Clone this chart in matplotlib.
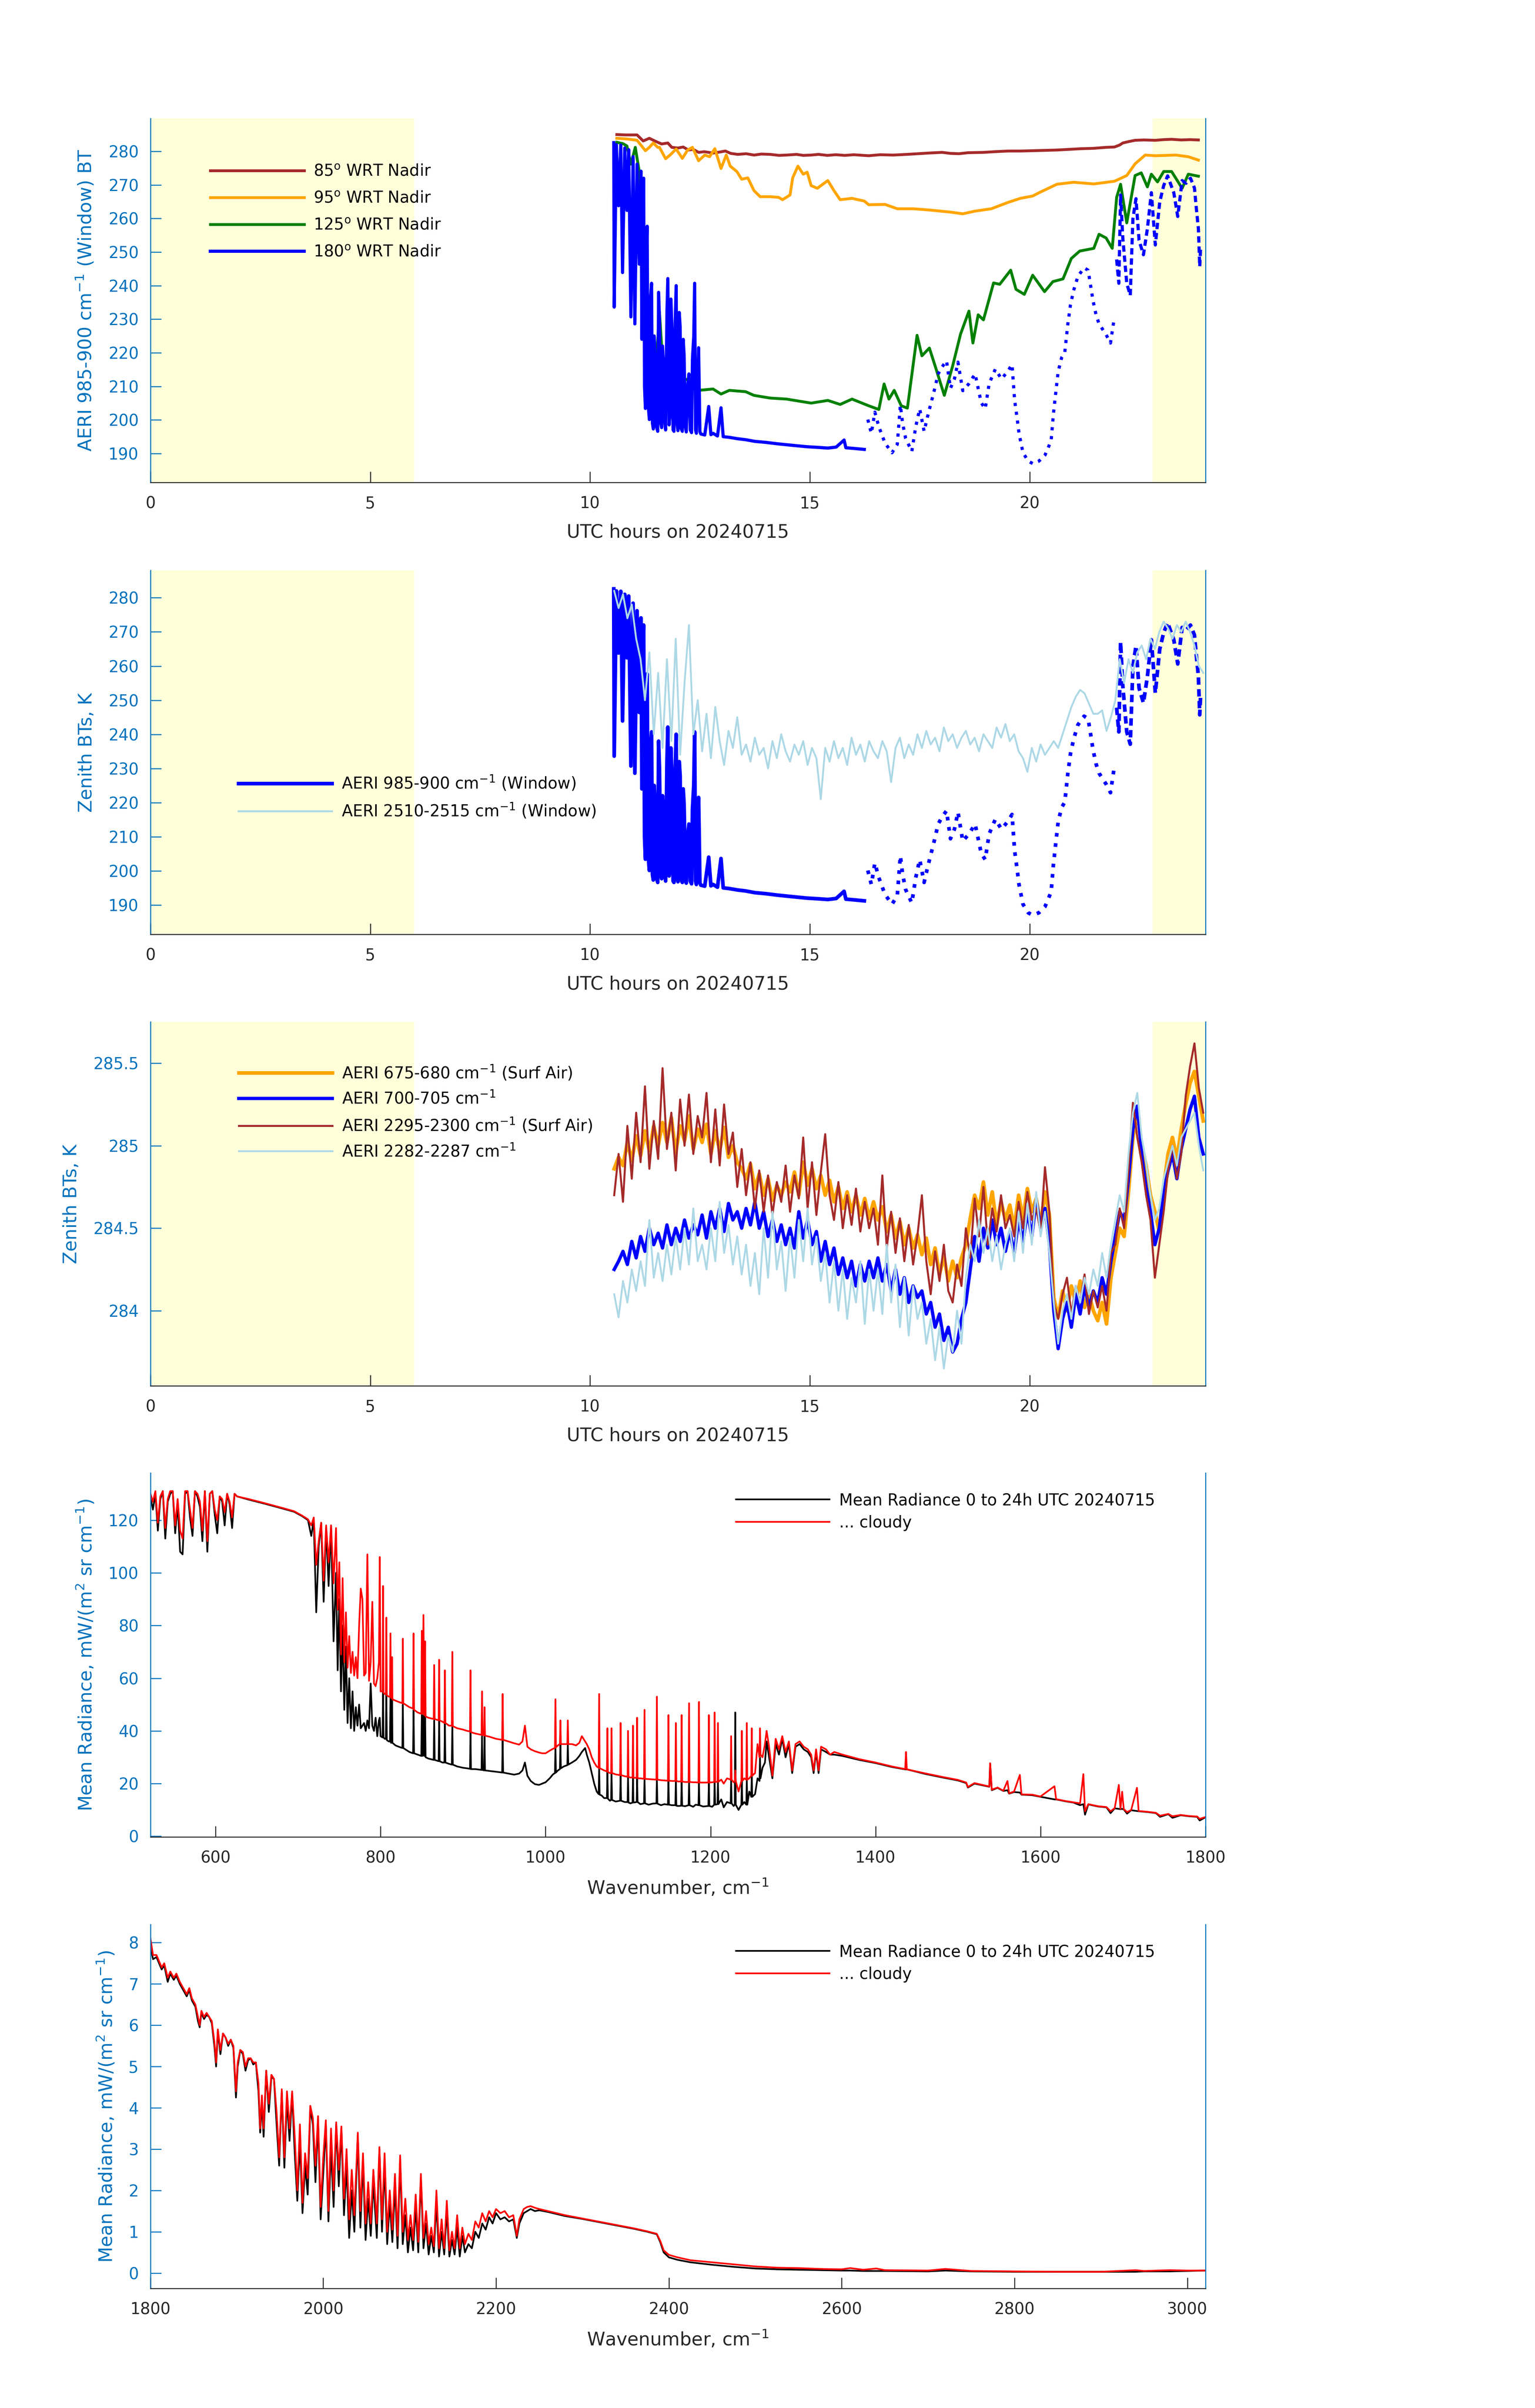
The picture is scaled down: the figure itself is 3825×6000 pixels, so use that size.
import matplotlib.pyplot as plt
import numpy as np

AXBLUE = '#0072BD'
DARK = '#262626'
SHADE = '#FFFFDA'

# night-time shading (UTC hours)
shade_spans = [(0, 6), (22.8, 24)]

# ---- panel 1: window BT at four scan angles (hour, K)
ang85 = [(10.61, 285.0), (10.8, 284.9), (11.07, 284.9), (11.21, 283.1), (11.35, 283.9), (11.49, 283.0),
         (11.63, 282.2), (11.77, 282.5), (11.86, 281.2), (12.0, 281.0), (12.12, 281.3), (12.24, 280.4),
         (12.35, 280.6), (12.47, 279.7), (12.6, 279.9), (12.8, 279.5), (12.95, 279.8), (13.08, 280.1),
         (13.2, 279.4), (13.36, 279.1), (13.55, 279.3), (13.73, 278.9), (13.9, 279.2), (14.1, 279.1),
         (14.3, 278.8), (14.47, 278.9), (14.7, 279.1), (14.85, 278.8), (15.03, 278.9), (15.2, 279.1),
         (15.4, 278.8), (15.59, 279.0), (15.8, 278.8), (16.0, 279.0), (16.34, 278.7), (16.6, 279.0),
         (16.9, 278.9), (17.2, 279.1), (17.46, 279.3), (17.7, 279.5), (18.01, 279.7), (18.2, 279.4),
         (18.39, 279.3), (18.6, 279.6), (18.95, 279.7), (19.2, 279.9), (19.51, 280.1), (19.8, 280.1),
         (20.07, 280.2), (20.35, 280.3), (20.62, 280.4), (20.9, 280.6), (21.18, 280.8), (21.45, 280.9),
         (21.74, 281.2), (21.93, 281.3), (22.05, 281.9), (22.12, 282.5), (22.25, 282.9), (22.4, 283.3),
         (22.6, 283.4), (22.86, 283.3), (23.05, 283.5), (23.23, 283.6), (23.45, 283.4), (23.65, 283.5),
         (23.84, 283.4)]
ang95 = [(10.61, 283.9), (10.84, 283.7), (11.07, 283.3), (11.26, 280.2), (11.35, 281.2), (11.44, 282.5),
         (11.54, 281.2), (11.58, 281.2), (11.72, 277.8), (11.82, 278.9), (11.96, 280.7), (12.1, 277.9),
         (12.22, 280.4), (12.33, 281.2), (12.47, 277.2), (12.61, 278.9), (12.72, 278.4), (12.84, 280.8),
         (12.98, 274.9), (13.1, 278.9), (13.19, 275.6), (13.34, 274.0), (13.45, 271.7), (13.59, 272.1),
         (13.73, 268.3), (13.87, 266.5), (14.1, 266.5), (14.29, 266.3), (14.38, 265.6), (14.55, 267.0),
         (14.61, 272.1), (14.73, 275.6), (14.85, 273.2), (14.94, 273.8), (15.03, 269.8), (15.17, 269.0),
         (15.41, 271.3), (15.55, 268.3), (15.69, 265.6), (15.96, 266.0), (16.24, 265.2), (16.34, 264.1),
         (16.71, 264.2), (16.99, 262.9), (17.36, 262.9), (17.74, 262.5), (18.2, 261.9), (18.48, 261.4),
         (18.76, 262.2), (19.13, 262.9), (19.51, 264.8), (19.79, 266.0), (20.07, 266.7), (20.25, 267.9),
         (20.62, 270.2), (21.0, 270.8), (21.46, 270.3), (21.93, 271.1), (22.21, 272.8), (22.4, 276.3),
         (22.63, 278.9), (22.86, 278.7), (23.33, 278.9), (23.61, 278.4), (23.84, 277.4)]
ang125 = [(10.61, 282.7), (10.75, 282.3), (10.84, 281.6), (10.93, 276.2), (11.03, 281.2), (11.12, 274.0),
          (11.16, 257.2), (11.21, 240.4), (11.3, 230.5), (11.4, 222.9), (11.49, 213.0), (11.58, 232.1),
          (11.68, 211.5), (11.86, 213.0), (12.05, 211.5), (12.24, 212.2), (12.47, 208.8), (12.8, 209.2),
          (12.98, 207.7), (13.17, 208.8), (13.54, 208.4), (13.73, 207.3), (14.1, 206.5), (14.47, 206.2),
          (15.03, 205.0), (15.41, 205.8), (15.69, 204.6), (15.96, 206.2), (16.34, 204.2), (16.57, 203.1),
          (16.69, 210.7), (16.8, 206.2), (16.92, 208.8), (17.08, 204.2), (17.22, 203.5), (17.44, 225.2),
          (17.55, 219.1), (17.72, 221.4), (17.85, 216.1), (18.06, 207.3), (18.25, 216.1), (18.43, 225.6),
          (18.62, 232.4), (18.71, 222.9), (18.83, 231.3), (18.95, 229.8), (19.18, 240.8), (19.32, 240.4),
          (19.57, 244.6), (19.69, 238.9), (19.88, 237.4), (20.07, 243.1), (20.34, 238.2), (20.53, 241.2),
          (20.76, 242.0), (20.95, 248.1), (21.14, 250.3), (21.46, 251.1), (21.58, 255.3), (21.74, 254.2),
          (21.88, 251.1), (21.98, 266.3), (22.07, 270.2), (22.21, 258.7), (22.4, 272.8), (22.54, 273.6),
          (22.68, 269.4), (22.77, 273.2), (22.91, 270.9), (23.05, 274.0), (23.23, 274.0), (23.47, 269.0),
          (23.61, 273.2), (23.84, 272.6)]

# AERI 985-900 cm-1 zenith window BT (= 180 deg WRT nadir); dense, gappy and late parts
win_dense = [(10.54, 282.6), (10.55, 233.6), (10.60, 282.0), (10.65, 263.8), (10.70, 281.9), (10.74, 243.9),
             (10.79, 281.0), (10.84, 262.4), (10.88, 280.5), (10.93, 230.7), (10.98, 278.4), (11.02, 228.6),
             (11.07, 276.2), (11.12, 246.4), (11.16, 274.1), (11.18, 224.0), (11.20, 262.0), (11.22, 272.0),
             (11.24, 210.0), (11.26, 203.4), (11.28, 245.0), (11.30, 257.7), (11.32, 205.0), (11.35, 200.1),
             (11.37, 235.0), (11.40, 240.7), (11.42, 199.0), (11.44, 197.3), (11.46, 225.0), (11.49, 216.5),
             (11.51, 198.0), (11.54, 196.6), (11.56, 238.0), (11.58, 230.0), (11.61, 199.0), (11.63, 197.7),
             (11.65, 222.0), (11.68, 215.1), (11.70, 199.5), (11.72, 197.0), (11.75, 232.0), (11.77, 242.1),
             (11.80, 198.5), (11.82, 201.6), (11.84, 236.0), (11.86, 228.6), (11.89, 197.0), (11.91, 196.6),
             (11.93, 225.0), (11.96, 240.0), (11.98, 199.0), (12.0, 196.8), (12.03, 232.0), (12.05, 227.9),
             (12.07, 197.5), (12.1, 196.6), (12.12, 224.0), (12.14, 219.4), (12.17, 198.0), (12.19, 196.4),
             (12.22, 210.0), (12.25, 213.7), (12.28, 197.0), (12.31, 196.2), (12.33, 218.0), (12.36, 225.0),
             (12.38, 240.7), (12.40, 197.0), (12.42, 196.0), (12.45, 212.0), (12.47, 221.5), (12.50, 196.5),
             (12.52, 195.8), (12.61, 195.5), (12.7, 204.0), (12.75, 195.6), (12.8, 196.0), (12.9, 195.2),
             (12.98, 203.6), (13.03, 195.0), (13.17, 194.8), (13.35, 194.4), (13.54, 194.1), (13.75, 193.6),
             (14.0, 193.3), (14.25, 192.9), (14.47, 192.6), (14.7, 192.3), (14.94, 192.0), (15.2, 191.8),
             (15.41, 191.6), (15.6, 191.9), (15.78, 194.0), (15.82, 191.7), (16.0, 191.5), (16.24, 191.2)]
win_sparse = [(16.32, 200.1), (16.40, 196.0), (16.48, 202.3), (16.57, 198.0), (16.71, 193.1), (16.87, 190.2),
              (16.99, 192.7), (17.06, 204.4), (17.11, 199.1), (17.18, 194.5), (17.32, 190.6), (17.41, 198.0),
              (17.50, 203.3), (17.60, 196.6), (17.69, 201.6), (17.83, 208.7), (17.92, 213.7), (18.01, 215.8),
              (18.11, 217.6), (18.20, 209.4), (18.29, 212.2), (18.37, 217.2), (18.48, 208.7), (18.62, 210.8),
              (18.76, 213.7), (18.90, 205.1), (18.99, 203.3), (19.08, 210.8), (19.22, 215.1), (19.36, 212.2),
              (19.50, 214.4), (19.60, 216.5), (19.66, 205.8), (19.72, 200.1), (19.76, 195.9), (19.85, 190.2),
              (19.97, 187.7), (20.07, 187.0), (20.21, 187.7), (20.35, 189.5), (20.49, 193.8), (20.54, 201.6),
              (20.60, 208.7), (20.65, 214.4), (20.73, 218.6), (20.80, 220.1), (20.87, 228.6), (20.93, 234.3),
              (21.00, 238.5), (21.10, 242.8), (21.24, 245.3), (21.33, 244.6), (21.38, 240.7), (21.44, 235.7),
              (21.51, 231.4), (21.58, 228.6), (21.67, 226.8), (21.74, 225.4), (21.84, 222.9), (21.93, 230.7)]
win_late = [(21.98, 247.8), (22.03, 240.7), (22.07, 267.0), (22.12, 254.2), (22.21, 240.7), (22.29, 237.1),
            (22.35, 259.9), (22.42, 265.9), (22.49, 253.5), (22.59, 249.2), (22.68, 257.0), (22.77, 267.7),
            (22.86, 252.1), (22.96, 264.9), (23.05, 269.8), (23.14, 272.7), (23.28, 267.7), (23.37, 260.6),
            (23.47, 271.3), (23.56, 270.5), (23.66, 272.0), (23.75, 269.1), (23.79, 263.4), (23.84, 257.0),
            (23.87, 245.7), (23.89, 251.3)]

# regular 0.1 h sampling used by panels 2 and 3
hours = np.round(np.arange(10.55, 23.96, 0.1), 2)

# ---- panel 2: AERI 2510-2515 cm-1 zenith BT
bt2510 = [282, 277, 281, 274, 278, 268, 262, 250, 264, 240,
          258, 236, 262, 238, 268, 234, 255, 272, 240, 250,
          235, 246, 233, 248, 238, 231, 241, 236, 245, 234,
          237, 232, 239, 234, 236, 230, 238, 233, 240, 235,
          232, 237, 234, 238, 231, 236, 233, 221, 236, 232,
          238, 233, 236, 231, 239, 234, 237, 232, 238, 235,
          233, 238, 235, 226, 236, 239, 233, 237, 234, 240,
          236, 241, 237, 239, 235, 242, 238, 240, 236, 239,
          241, 237, 239, 235, 240, 238, 236, 242, 239, 243,
          238, 240, 235, 233, 229, 236, 232, 237, 234, 236,
          238, 236, 240, 244, 248, 251, 253, 252, 249, 246,
          246, 247, 241, 245, 250, 262, 255, 262, 258, 264,
          266, 262, 268, 265, 270, 273, 271, 268, 272, 270,
          273, 270, 266, 260, 258]

# ---- panel 3: near-surface channels (K)
bt675 = [284.86, 284.93, 284.88, 285.02, 284.91, 285.06, 284.94, 285.09, 284.97, 285.12,
         285.0, 285.14, 285.02, 285.17, 284.96, 285.12, 285.03, 285.18, 284.98, 285.1,
         285.02, 285.13, 284.95, 285.09, 284.97, 285.11, 284.93, 285.0, 284.9, 284.86,
         284.8, 284.89, 284.74, 284.83, 284.7, 284.8, 284.67, 284.76, 284.7, 284.78,
         284.72, 284.84, 284.7, 284.9, 284.76, 284.86, 284.74, 284.82, 284.7, 284.79,
         284.66, 284.75, 284.62, 284.72, 284.6, 284.7, 284.58, 284.68, 284.56, 284.66,
         284.55, 284.63, 284.48, 284.58, 284.44, 284.54, 284.4, 284.5, 284.38, 284.46,
         284.34, 284.44, 284.28, 284.38, 284.22, 284.33, 284.18, 284.3, 284.2, 284.32,
         284.4, 284.56, 284.7, 284.62, 284.78, 284.58, 284.72, 284.52, 284.66, 284.55,
         284.64, 284.5, 284.7, 284.56, 284.74, 284.6, 284.68, 284.52, 284.72, 284.58,
         284.08, 283.96, 284.12, 284.0, 284.15, 284.05, 284.18, 284.02, 284.1, 284.0,
         283.94, 284.05, 283.92, 284.2, 284.35, 284.5, 284.45, 284.72, 285.05, 285.2,
         285.0, 284.88, 284.7, 284.6, 284.48, 284.75, 284.95, 285.05, 284.92, 285.1,
         285.25, 285.38, 285.45, 285.3, 285.15]
bt700 = [284.25, 284.3, 284.36, 284.28, 284.42, 284.32, 284.45, 284.36, 284.5, 284.4,
         284.47, 284.38, 284.52, 284.4, 284.5, 284.42, 284.55, 284.44, 284.52, 284.46,
         284.58, 284.44, 284.6, 284.5, 284.62, 284.48, 284.65, 284.55, 284.6, 284.5,
         284.62, 284.52, 284.66, 284.5, 284.6, 284.45, 284.55, 284.42, 284.52, 284.4,
         284.5, 284.38, 284.6, 284.44, 284.55, 284.4, 284.48, 284.3, 284.42, 284.28,
         284.38, 284.22, 284.32, 284.2, 284.3, 284.15, 284.28, 284.18, 284.3, 284.2,
         284.32, 284.18, 284.28, 284.12, 284.25, 284.1, 284.2, 284.05, 284.15, 284.08,
         284.12, 283.98, 284.05, 283.9, 283.98, 283.82, 283.9, 283.75, 283.8, 283.95,
         284.05, 284.25, 284.45, 284.3, 284.5, 284.38, 284.55, 284.4, 284.5, 284.36,
         284.48, 284.35, 284.55, 284.42, 284.6, 284.45, 284.67, 284.5, 284.62, 284.4,
         284.0, 283.77, 283.95, 284.05, 283.9, 284.1, 283.98, 284.15, 284.02, 284.12,
         284.05, 284.2, 284.1, 284.3, 284.45, 284.6, 284.55, 284.8, 285.1, 285.24,
         284.95, 284.75, 284.6, 284.4, 284.5, 284.72, 284.85, 284.95, 284.8, 284.98,
         285.1, 285.22, 285.3, 285.05, 284.95]
bt2295 = [284.7, 284.95, 284.66, 285.12, 284.8, 285.2, 284.9, 285.36, 284.86, 285.15,
          284.92, 285.47, 284.98, 285.2, 284.85, 285.28, 285.0, 285.31, 284.95, 285.18,
          285.05, 285.32, 284.9, 285.22, 284.88, 285.25, 284.95, 285.08, 284.75, 284.98,
          284.7, 284.9, 284.62, 284.85, 284.6, 284.82, 284.58, 284.78, 284.66, 284.88,
          284.6, 284.82, 284.68, 285.05, 284.62, 284.9, 284.58, 284.84, 285.07, 284.7,
          284.55, 284.78, 284.5, 284.7, 284.52, 284.74, 284.48, 284.66, 284.5, 284.62,
          284.4, 284.82, 284.38, 284.6, 284.35, 284.56, 284.3, 284.52, 284.28, 284.46,
          284.7, 284.3, 284.1, 284.36, 284.18, 284.4, 284.12, 284.05, 284.28, 284.15,
          284.5, 284.32, 284.68, 284.45, 284.75, 284.4, 284.62, 284.48, 284.7, 284.5,
          284.58, 284.45, 284.66, 284.5, 284.72, 284.55, 284.62, 284.48, 284.87, 284.6,
          284.05, 283.95, 284.1, 284.2, 283.98, 284.15, 284.05, 284.22, 283.98, 284.12,
          284.02, 284.15, 284.0, 284.35, 284.4, 284.62, 284.5, 284.85, 285.26, 285.05,
          284.9, 284.7, 284.55, 284.2, 284.4, 284.6, 284.85, 285.0, 284.8, 284.95,
          285.3, 285.48, 285.62, 285.35, 285.2]
bt2282 = [284.1, 283.96, 284.18, 284.05, 284.25, 284.12, 284.3, 284.15, 284.55, 284.2,
          284.35, 284.18, 284.4, 284.22, 284.45, 284.25, 284.5, 284.28, 284.62, 284.3,
          284.4, 284.25, 284.5, 284.3, 284.66, 284.35, 284.52, 284.28, 284.45, 284.22,
          284.4, 284.15, 284.35, 284.1, 284.5, 284.2, 284.6, 284.25, 284.42, 284.12,
          284.45, 284.2, 284.55, 284.3, 284.62, 284.28, 284.45, 284.18, 284.35, 284.05,
          284.3, 284.0, 284.25, 283.95, 284.2, 284.05, 284.3, 283.92, 284.25, 284.0,
          284.25, 283.98, 284.4, 284.05, 284.28, 283.9, 284.2, 283.85, 284.15, 283.95,
          284.05, 283.8, 283.95, 283.7, 283.9, 283.65, 283.85, 283.75, 284.0, 283.8,
          284.2, 284.4, 284.3, 284.55, 284.35, 284.5, 284.3, 284.45, 284.25, 284.4,
          284.5, 284.3, 284.6, 284.35, 284.65, 284.4, 284.72, 284.45, 284.6, 284.35,
          284.05, 283.8, 284.0, 284.1, 283.95, 284.15, 284.05, 284.2, 284.1, 284.25,
          284.15, 284.35, 284.2, 284.4, 284.55, 284.7, 284.6, 284.95, 285.2, 285.32,
          285.05, 284.9, 284.7, 284.55, 284.62, 284.8, 284.9, 285.0, 284.88, 285.05,
          285.1, 285.15, 285.2, 285.0, 284.85]

# ---- panel 4: mean radiance 520-1800 cm-1 (wavenumber, all-day mean, cloudy)
spec_lw = [(521, 129, 130), (524, 124, 127), (527, 130, 131), (530, 116, 119), (533, 128, 129),
           (536, 131, 131), (539, 113, 117), (542, 127, 128), (545, 130, 131), (548, 131, 131),
           (551, 115, 118), (554, 126, 128), (557, 108, 116), (560, 107, 113), (563, 130, 131),
           (566, 131, 131), (569, 121, 124), (572, 114, 117), (575, 131, 131), (578, 129, 130),
           (581, 125, 127), (584, 112, 116), (587, 131, 131), (590, 108, 112), (593, 130, 130),
           (596, 131, 131), (599, 122, 124), (602, 115, 120), (605, 129, 129), (608, 127, 128),
           (611, 118, 123), (614, 130, 130), (617, 126, 127), (620, 117, 121), (623, 130, 130),
           (626, 129, 129), (640, 127.8, 128), (660, 126.2, 126.4), (680, 124.5, 124.7), (695, 123.2, 123.4),
           (705, 121.5, 121.7), (712, 120, 120.3), (716, 114, 118), (719, 120, 121), (722, 85, 103),
           (725, 110, 112), (728, 119, 119), (731, 89, 97), (734, 117, 118), (737, 95, 104),
           (740, 118, 118), (743, 74, 96), (746, 100, 117), (748, 63, 86), (750, 90, 104),
           (752, 55, 69), (754, 80, 98), (756, 48, 66), (758, 72, 85), (760, 43, 64),
           (762, 60, 76), (764, 41, 62), (766, 55, 70), (768, 40, 61), (770, 49, 68),
           (772, 42, 60), (774, 50, 80), (776, 41, 94), (778, 42, 90), (780, 43, 61),
           (782, 40, 62), (784, 44, 107), (786, 41, 59), (788, 58, 66), (790, 42, 89),
           (792, 40, 58), (794, 45, 57), (796, 38, 60), (798, 44, 66), (799, 45, 106),
           (800, 38, 55), (802.4, 37.5, 55), (803, 55, 95), (803.6, 37.5, 54.5), (805, 37, 54),
           (806.4, 37, 54), (807, 54, 83), (807.6, 36.5, 53.5), (810, 36, 53), (811.4, 36, 53),
           (812, 53, 77), (812.6, 35.5, 52.5), (813.6, 35.5, 52.5), (814, 52, 68), (814.4, 35.5, 52),
           (818, 34.5, 51.5), (822, 34, 51), (826.4, 33.5, 50.5), (827, 50, 75), (827.6, 33.5, 50.5),
           (830, 33, 50), (835, 32, 49), (839.4, 31.5, 48.5), (840, 48, 77), (840.6, 31.5, 48),
           (845, 31, 47), (849.4, 30.5, 46.5), (850, 46, 78), (850.8, 30.5, 46.5), (852, 46, 84),
           (853, 30.5, 46), (854, 46, 74), (854.6, 30, 45.5), (858, 29.5, 45), (864.4, 29, 44.5),
           (865, 44, 65), (865.6, 29, 44.5), (870.4, 28.5, 44), (871, 44, 67), (871.6, 28.5, 44),
           (875, 28, 43.5), (877.4, 28, 43), (878, 43, 63), (878.6, 28, 43), (883, 27.5, 42),
           (886.4, 27.2, 42), (887, 42, 70), (887.6, 27.2, 41.8), (893, 26.5, 41), (900, 26, 40.5),
           (905, 25.8, 40), (908.4, 25.6, 39.8), (909, 39.5, 63), (909.6, 25.5, 39.5), (915, 25.5, 39),
           (922.4, 25.2, 38.5), (923, 38, 55), (923.6, 25.2, 38.5), (925.5, 25, 38.3), (926, 38, 49),
           (926.6, 25, 38.2), (932, 24.8, 37.8), (940, 24.5, 37), (947.4, 24.2, 36.6), (948, 36.5, 54),
           (948.6, 24.2, 36.6), (955, 23.8, 36), (962, 23.4, 35.3), (968, 23.8, 34.8), (972, 25, 36),
           (975, 28, 42), (978, 23, 34), (982, 21, 33), (987, 19.8, 32.3), (992, 19.5, 31.8),
           (996, 20, 31.5), (1000, 20.5, 31.5), (1005, 22, 32.5), (1009, 23.5, 33.2), (1011.4, 24, 33.5),
           (1012, 33.5, 52), (1012.6, 24.2, 33.8), (1015, 25, 34.5), (1017.4, 25.5, 35), (1018, 35, 44),
           (1018.6, 25.8, 35), (1022, 26.5, 35), (1026.4, 27, 35), (1027, 35, 44), (1027.6, 27.2, 35),
           (1032, 28, 35), (1037, 29, 34.5), (1041, 30.5, 35.5), (1044, 32, 38), (1048, 33.5, 36),
           (1050, 31, 35), (1053, 28, 33), (1056, 24, 30), (1059, 20, 28), (1062, 17, 26.5),
           (1064.4, 16, 26), (1065, 26, 54), (1065.6, 15.8, 25.8), (1068, 15.5, 25.5), (1071, 14.5, 25),
           (1074.4, 14.5, 24.6), (1075, 24.5, 41), (1075.6, 14.3, 24.4), (1078, 13.5, 24), (1079.5, 13.8, 24),
           (1080, 24, 41), (1080.6, 13.8, 24), (1085, 13.2, 23.5), (1090.4, 13.5, 23.2), (1091, 23, 43),
           (1091.6, 13.5, 23.2), (1096, 13, 22.8), (1099.5, 13, 22.6), (1100, 22.5, 40), (1100.6, 12.8, 22.5),
           (1103, 12.5, 22.3), (1105.5, 12.8, 22.3), (1106, 22.2, 42), (1106.6, 12.8, 22.2), (1110.5, 13, 22.2),
           (1111, 22, 45), (1111.6, 13, 22), (1115, 12.2, 22), (1119.4, 12.5, 21.8), (1120, 21.8, 48),
           (1120.6, 12.5, 21.8), (1125, 12, 21.7), (1130, 12.4, 21.6), (1134.4, 12.5, 21.5), (1135, 21.5, 53),
           (1135.6, 12.4, 21.5), (1140, 11.8, 21.3), (1144, 12.2, 21.2), (1148.4, 12, 21.1), (1149, 21, 46),
           (1149.6, 12, 21.1), (1153, 11.8, 21), (1157.4, 11.8, 21), (1158, 21, 43), (1158.6, 11.6, 21),
           (1161, 11.5, 20.8), (1164.4, 11.6, 20.8), (1165, 20.8, 46), (1165.6, 11.6, 20.8), (1169, 11.4, 20.6),
           (1173.4, 11.8, 20.6), (1174, 20.6, 50.5), (1174.6, 11.8, 20.6), (1179, 11.2, 20.5), (1182, 12, 20.5),
           (1185.4, 11.8, 20.4), (1186, 20.4, 51), (1186.6, 11.8, 20.4), (1191, 11.3, 20.4), (1197.4, 11.5, 20.4),
           (1198, 20.4, 46), (1198.6, 11.5, 20.4), (1202, 11.2, 20.5), (1204.4, 12, 20.6), (1205, 20.6, 47),
           (1205.6, 12, 20.6), (1208.5, 12.2, 20.7), (1209, 20.7, 43), (1209.6, 12.2, 20.7), (1213, 14, 21.5),
           (1216, 11, 20), (1220, 13, 22), (1224.4, 12.5, 21.5), (1225, 21.5, 38), (1225.6, 12.5, 21.5),
           (1228, 11.5, 20.5), (1229.4, 12, 21), (1230, 47, 25), (1230.6, 12, 21), (1234, 10, 17),
           (1237.4, 12, 21), (1238, 21, 40), (1238.6, 12, 21), (1241, 13, 22), (1243.4, 12, 21.5),
           (1244, 21.5, 43), (1244.6, 12, 21.5), (1247, 17, 22), (1249.4, 15, 23), (1250, 23, 41),
           (1250.6, 15, 23), (1254, 16, 24), (1257, 22, 35), (1259.4, 21, 30), (1260, 30, 41),
           (1260.6, 22, 31), (1263, 26, 30), (1266, 28, 35), (1268, 36, 40), (1271, 30, 34),
           (1275, 22, 23), (1279, 35, 37), (1283, 31, 33), (1287, 37, 38), (1291, 30, 32),
           (1295, 35, 36), (1299, 24, 25), (1303, 34, 35), (1308, 35, 36), (1313, 33, 34),
           (1318, 32, 33), (1322, 30, 31), (1325, 24, 25), (1328, 32, 33), (1331, 24, 25),
           (1334, 33, 34), (1340, 32, 33), (1345, 31, 31), (1350, 31, 32), (1360, 30.5, 31),
           (1380, 29, 29.3), (1400, 27.8, 28), (1420, 26.3, 26.5), (1436, 25.4, 25.5), (1437, 25.4, 32),
           (1438, 25.4, 25.4), (1460, 23.7, 23.9), (1480, 22.4, 22.6), (1500, 21.2, 21.4), (1510, 20.2, 20.4),
           (1512, 18.5, 18.7), (1520, 20.0, 20.2), (1538, 18.8, 18.9), (1539, 27.7, 27.7), (1541, 17.5, 17.7),
           (1548, 18.4, 18.5), (1555, 17.2, 17.3), (1560, 17.5, 21), (1562, 16.2, 16.3), (1568, 16.8, 17.0),
           (1575, 16.6, 23.3), (1577, 15.8, 15.9), (1590, 15.6, 15.8), (1600, 15, 15.1), (1617, 14.0, 19),
           (1619, 14.0, 14.1), (1630, 13.3, 13.4), (1640, 12.8, 12.9), (1648, 11.8, 12.5), (1652, 12.2, 23.6),
           (1654, 8.2, 9.5), (1658, 12.1, 12.2), (1670, 11.3, 11.4), (1680, 11.0, 11.1), (1685, 8.8, 9.5),
           (1690, 10.6, 10.7), (1695, 10.4, 19.5), (1697, 10.3, 10.4), (1699, 10.4, 16.9), (1701, 10.2, 10.3),
           (1705, 8.6, 9.2), (1710, 9.9, 10.0), (1717, 9.6, 18.4), (1719, 9.5, 9.6), (1730, 9.2, 9.3),
           (1740, 8.8, 8.9), (1745, 7.4, 7.8), (1755, 8.4, 8.5), (1760, 7.0, 7.6), (1770, 8.0, 8.1),
           (1780, 7.6, 7.7), (1790, 7.4, 7.5), (1793, 6.0, 6.6), (1800, 7.2, 7.3)]

# ---- panel 5: mean radiance 1800-3020 cm-1
spec_sw = [(1800, 7.9, 8.1), (1803, 7.6, 7.7), (1807, 7.65, 7.7), (1810, 7.5, 7.55), (1813, 7.35, 7.4),
           (1816, 7.45, 7.5), (1820, 7.05, 7.15), (1823, 7.25, 7.3), (1827, 7.1, 7.15), (1830, 7.2, 7.25),
           (1834, 7.0, 7.05), (1838, 6.85, 6.9), (1842, 6.7, 6.75), (1845, 6.85, 6.9), (1848, 6.6, 6.65),
           (1852, 6.45, 6.5), (1855, 6.1, 6.2), (1857, 5.95, 6.0), (1859, 6.3, 6.35), (1862, 6.15, 6.2),
           (1865, 6.25, 6.3), (1868, 6.2, 6.2), (1871, 6.05, 6.1), (1874, 5.5, 5.6), (1876, 5.0, 5.1),
           (1878, 5.85, 5.9), (1881, 5.3, 5.4), (1884, 5.8, 5.8), (1887, 5.7, 5.7), (1890, 5.5, 5.55),
           (1893, 5.65, 5.65), (1896, 5.45, 5.5), (1899, 4.25, 4.4), (1901, 5.0, 5.1), (1904, 5.4, 5.4),
           (1907, 5.3, 5.35), (1910, 4.9, 5.0), (1913, 5.15, 5.2), (1916, 5.2, 5.2), (1919, 5.05, 5.1),
           (1922, 5.1, 5.1), (1925, 4.4, 4.6), (1927, 3.4, 3.5), (1929, 4.1, 4.3), (1931, 3.3, 3.5),
           (1934, 4.9, 4.9), (1937, 3.9, 4.1), (1940, 4.75, 4.8), (1943, 4.7, 4.7), (1946, 3.6, 3.9),
           (1949, 2.6, 2.8), (1952, 4.4, 4.45), (1955, 2.55, 2.8), (1958, 4.2, 4.4), (1961, 3.2, 3.5),
           (1964, 4.35, 4.4), (1967, 2.9, 3.3), (1970, 1.75, 2.0), (1973, 3.2, 3.6), (1976, 1.45, 1.7),
           (1979, 2.6, 2.9), (1982, 1.9, 2.3), (1985, 4.0, 4.05), (1988, 3.6, 3.75), (1991, 2.2, 2.6),
           (1994, 3.7, 3.8), (1997, 1.3, 1.6), (2000, 2.4, 2.8), (2003, 3.6, 3.7), (2006, 1.25, 1.5),
           (2009, 3.0, 3.5), (2012, 1.6, 2.0), (2015, 3.6, 3.65), (2018, 2.1, 2.5), (2021, 3.5, 3.55),
           (2024, 1.4, 1.8), (2027, 2.6, 3.0), (2030, 0.85, 1.3), (2033, 2.0, 2.5), (2036, 1.0, 1.4),
           (2040, 3.3, 3.4), (2043, 1.1, 1.5), (2046, 2.7, 2.9), (2049, 0.8, 1.2), (2052, 1.8, 2.2),
           (2055, 0.9, 1.2), (2058, 2.2, 2.5), (2062, 0.85, 1.2), (2065, 3.0, 3.05), (2068, 1.0, 1.3),
           (2071, 2.6, 2.9), (2074, 0.7, 1.0), (2077, 1.7, 2.0), (2080, 0.75, 1.05), (2083, 2.1, 2.4),
           (2086, 0.6, 0.9), (2089, 2.7, 2.85), (2092, 0.7, 1.0), (2095, 1.4, 1.8), (2098, 0.5, 0.8),
           (2101, 1.1, 1.4), (2104, 0.55, 0.8), (2107, 1.6, 1.9), (2110, 0.5, 0.75), (2113, 2.3, 2.4),
           (2116, 0.6, 0.85), (2119, 1.2, 1.5), (2122, 0.45, 0.7), (2125, 0.9, 1.1), (2128, 0.5, 0.65),
           (2131, 1.7, 2.0), (2134, 0.4, 0.6), (2137, 1.0, 1.3), (2140, 0.45, 0.6), (2143, 1.5, 1.75),
           (2146, 0.4, 0.55), (2149, 0.8, 1.0), (2152, 0.45, 0.6), (2155, 1.1, 1.4), (2158, 0.4, 0.6),
           (2161, 0.9, 1.1), (2164, 0.5, 0.7), (2168, 0.7, 0.95), (2172, 0.6, 0.8), (2176, 1.0, 1.25),
           (2180, 0.85, 1.1), (2184, 1.2, 1.45), (2188, 1.05, 1.25), (2192, 1.35, 1.5), (2196, 1.2, 1.35),
           (2200, 1.45, 1.55), (2205, 1.3, 1.45), (2210, 1.35, 1.5), (2215, 1.25, 1.35), (2220, 1.3, 1.4),
           (2224, 0.85, 0.9), (2227, 1.2, 1.3), (2232, 1.45, 1.55), (2236, 1.5, 1.6), (2240, 1.55, 1.62),
           (2245, 1.5, 1.58), (2250, 1.52, 1.55), (2260, 1.48, 1.5), (2280, 1.38, 1.4), (2300, 1.31, 1.32),
           (2320, 1.23, 1.24), (2340, 1.15, 1.16), (2360, 1.07, 1.08), (2375, 1.0, 1.01), (2386, 0.94, 0.95),
           (2390, 0.75, 0.78), (2394, 0.5, 0.55), (2400, 0.38, 0.44), (2410, 0.32, 0.38), (2425, 0.26, 0.31),
           (2450, 0.2, 0.26), (2475, 0.15, 0.21), (2500, 0.11, 0.16), (2525, 0.09, 0.13), (2550, 0.08, 0.12),
           (2575, 0.07, 0.1), (2600, 0.06, 0.09), (2610, 0.06, 0.12), (2625, 0.05, 0.08), (2640, 0.05, 0.11),
           (2650, 0.05, 0.07), (2700, 0.04, 0.06), (2720, 0.06, 0.1), (2750, 0.04, 0.05), (2800, 0.03, 0.04),
           (2850, 0.03, 0.03), (2900, 0.03, 0.03), (2940, 0.03, 0.07), (2950, 0.04, 0.05), (2980, 0.04, 0.07),
           (3000, 0.05, 0.06), (3020, 0.06, 0.06)]


def cols(rows):
    return [np.array(c, dtype=float) for c in zip(*rows)]


def setup(ax, xlim, ylim, xticks, yticks, xlabel, ylabel, yticklabels=None):
    ax.set_xlim(*xlim)
    ax.set_ylim(*ylim)
    ax.set_xticks(xticks)
    ax.set_yticks(yticks)
    if yticklabels is not None:
        ax.set_yticklabels(yticklabels)
    ax.spines['top'].set_visible(False)
    ax.spines['left'].set_color(AXBLUE)
    ax.spines['right'].set_color(AXBLUE)
    ax.spines['bottom'].set_color(DARK)
    for s in ax.spines.values():
        s.set_linewidth(0.6)
    ax.tick_params(axis='y', direction='in', length=6.4, width=0.6, colors=AXBLUE, labelsize=9.5, pad=7)
    ax.tick_params(axis='x', direction='in', length=6.4, width=0.6, colors=DARK, labelsize=9.5, pad=8)
    ax.set_xlabel(xlabel, fontsize=11, color=DARK, labelpad=7)
    ax.set_ylabel(ylabel, fontsize=11, color=AXBLUE, labelpad=7.5)


def shade(ax):
    for a, b in shade_spans:
        ax.axvspan(a, b, color=SHADE, lw=0, zorder=0)


def legend(ax, x, y, spacing):
    ax.legend(loc='upper left', bbox_to_anchor=(x, y), frameon=False, borderpad=0, borderaxespad=0,
              handlelength=5.9, handletextpad=0.6, labelspacing=spacing, fontsize=9.5)


def draw_window(ax, lw, label):
    t, v = cols(win_dense)
    ax.plot(t, v, color='blue', lw=lw, label=label, zorder=3)
    t, v = cols(win_sparse)
    ax.plot(t, v, color='blue', lw=lw, ls=(0, (1.0, 1.8)), zorder=3)
    t, v = cols(win_late)
    ax.plot(t, v, color='blue', lw=lw, ls=(0, (2.0, 1.2)), zorder=3)


fig = plt.figure(figsize=(12.75, 20), dpi=300)
L, W, H = 0.098, 0.6873, 0.1511
utc_label = 'UTC hours on 20240715'
rad_label = 'Mean Radiance, mW/(m$^2$ sr cm$^{-1}$)'

# panel 1
ax1 = fig.add_axes([L, 0.7997, W, H])
shade(ax1)
for rows, c, lab in [(ang85, 'brown', '85'), (ang95, 'orange', '95'), (ang125, 'green', '125')]:
    t, v = cols(rows)
    ax1.plot(t, v, color=c, lw=1.7, label=lab + r'$^{\mathrm{o}}$ WRT Nadir', zorder=2)
draw_window(ax1, 1.9, r'180$^{\mathrm{o}}$ WRT Nadir')
setup(ax1, (0, 24), (181.4, 289.8), [0, 5, 10, 15, 20], np.arange(190, 281, 10),
      utc_label, 'AERI 985-900 cm$^{-1}$ (Window) BT')
legend(ax1, 0.0568, 0.876, 0.68)

# panel 2
ax2 = fig.add_axes([L, 0.612, W, H])
shade(ax2)
draw_window(ax2, 2.2, 'AERI 985-900 cm$^{-1}$ (Window)')
ax2.plot(hours, bt2510, color='lightblue', lw=1.1, label='AERI 2510-2515 cm$^{-1}$ (Window)', zorder=4)
setup(ax2, (0, 24), (181.4, 288.0), [0, 5, 10, 15, 20], np.arange(190, 281, 10),
      utc_label, 'Zenith BTs, K')
legend(ax2, 0.0833, 0.440, 0.6)

# panel 3
ax3 = fig.add_axes([L, 0.4245, W, H])
shade(ax3)
ax3.plot(hours, bt675, color='orange', lw=2.2, label='AERI 675-680 cm$^{-1}$ (Surf Air)', zorder=2)
ax3.plot(hours, bt700, color='blue', lw=2.0, label='AERI 700-705 cm$^{-1}$', zorder=3)
ax3.plot(hours, bt2295, color='brown', lw=1.2, label='AERI 2295-2300 cm$^{-1}$ (Surf Air)', zorder=4)
ax3.plot(hours, bt2282, color='lightblue', lw=1.1, label='AERI 2282-2287 cm$^{-1}$', zorder=5)
setup(ax3, (0, 24), (283.545, 285.75), [0, 5, 10, 15, 20], [284, 284.5, 285, 285.5],
      utc_label, 'Zenith BTs, K', ['284', '284.5', '285', '285.5'])
legend(ax3, 0.0837, 0.885, 0.58)

# panel 4
ax4 = fig.add_axes([L, 0.2372, W, H])
wn, mean_r, cloudy_r = cols(spec_lw)
ax4.plot(wn, mean_r, color='black', lw=1.0, label='Mean Radiance 0 to 24h UTC 20240715')
ax4.plot(wn, cloudy_r, color='red', lw=1.0, label='... cloudy')
setup(ax4, (521, 1800), (-0.2, 137.9), np.arange(600, 1801, 200), np.arange(0, 121, 20),
      'Wavenumber, cm$^{-1}$', rad_label)
legend(ax4, 0.555, 0.946, 0.4)

# panel 5
ax5 = fig.add_axes([L, 0.0497, W, H])
wn, mean_r, cloudy_r = cols(spec_sw)
ax5.plot(wn, mean_r, color='black', lw=1.0, label='Mean Radiance 0 to 24h UTC 20240715')
ax5.plot(wn, cloudy_r, color='red', lw=1.0, label='... cloudy')
setup(ax5, (1800, 3021), (-0.37, 8.44), np.arange(1800, 3001, 200), np.arange(0, 9, 1),
      'Wavenumber, cm$^{-1}$', rad_label)
legend(ax5, 0.555, 0.946, 0.4)

fig.savefig('out.png', dpi=300)
